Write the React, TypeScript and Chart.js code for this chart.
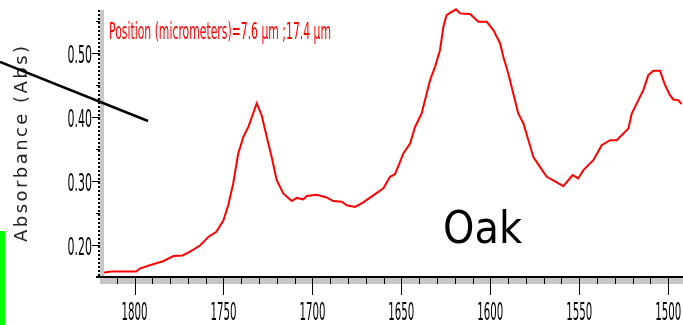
import React, { useEffect, useRef } from "react";
import { Chart, registerables } from "chart.js";

Chart.register(...registerables);

// Data (wavenumber cm-1, absorbance)
const wavenumbers = [
  1818, 1813, 1799, 1797, 1791, 1784, 1778, 1773, 1769, 1763, 1758.5, 1754, 1750, 1747.3, 1744.5, 1741.7,
  1738.8, 1736, 1731.3, 1728.5, 1725.7, 1722.9, 1720.1, 1716.4, 1711.6, 1708.8, 1705.1, 1703.2, 1697.6,
  1692, 1688.3, 1683.5, 1680.7, 1676, 1671.4, 1665.8, 1660.1, 1656.4, 1653.6, 1650.8, 1648.9, 1645.1,
  1642.3, 1638.6, 1636.7, 1633.9, 1631.1, 1628.3, 1626.4, 1624.6, 1621.7, 1619.3, 1617, 1611.4, 1606.7,
  1602, 1598.3, 1594.5, 1592.7, 1589.9, 1587.1, 1584.3, 1581.4, 1578.6, 1575.8, 1572.1, 1568.3, 1563.6,
  1559, 1553.7, 1550.6, 1547.7, 1542.1, 1537.4, 1532.7, 1529, 1525.2, 1522.4, 1520.5, 1516.8, 1514,
  1511.2, 1508.4, 1504.6, 1501.8, 1499, 1497.2, 1494.4, 1492.5,
];
const absorbance = [
  0.157, 0.159, 0.159, 0.1635, 0.169, 0.175, 0.183, 0.184, 0.1895, 0.2, 0.213, 0.221, 0.239, 0.263, 0.297,
  0.3435, 0.3695, 0.385, 0.422, 0.403, 0.3695, 0.338, 0.302, 0.281, 0.269, 0.274, 0.2715, 0.277, 0.279,
  0.2747, 0.269, 0.268, 0.2626, 0.26, 0.267, 0.278, 0.289, 0.307, 0.311, 0.33, 0.3435, 0.359, 0.385,
  0.406, 0.427, 0.458, 0.479, 0.505, 0.5416, 0.56, 0.565, 0.569, 0.5626, 0.5615, 0.5495, 0.5495, 0.5365,
  0.5156, 0.4947, 0.4687, 0.4374, 0.406, 0.3905, 0.3643, 0.338, 0.3225, 0.307, 0.3, 0.2923, 0.3096,
  0.3044, 0.3174, 0.333, 0.3565, 0.3643, 0.3643, 0.3748, 0.3826, 0.406, 0.427, 0.4426, 0.466, 0.4728,
  0.4728, 0.4504, 0.4347, 0.428, 0.427, 0.4207,
];

const xMajorTicks = [1800, 1750, 1700, 1650, 1600, 1550, 1500];
const xMinorStep = 10;
const yMajorTicks = [0.2, 0.3, 0.4, 0.5];
const yMinorStep = 0.05;
const xRange = [1491.7, 1819.4];
const yRange = [0.1503, 0.5679];

const yTitle = "Absorbance (Abs)";
const positionText = "Position (micrometers)=7.6 \u00b5m ;17.4 \u00b5m";
const sampleText = "Oak";

const FONT = '"DejaVu Sans", "Liberation Sans", sans-serif';

function drawScaled(
  ctx: CanvasRenderingContext2D,
  text: string,
  x: number,
  y: number,
  sx: number,
  align: CanvasTextAlign
) {
  ctx.save();
  ctx.translate(x, y);
  ctx.scale(sx, 1);
  ctx.textAlign = align;
  ctx.textBaseline = "alphabetic";
  ctx.fillText(text, 0, 0);
  ctx.restore();
}

const decorPlugin = {
  id: "decor",
  afterDraw(chart: any) {
    const ctx: CanvasRenderingContext2D = chart.ctx;
    const xs = chart.scales.x;
    const ys = chart.scales.y;
    const area = chart.chartArea;
    ctx.save();

    // grey bands
    ctx.fillStyle = "#c6c6c6";
    ctx.fillRect(area.left, area.bottom + 1, area.right - area.left, 6);
    ctx.fillRect(area.left, area.top, 4, area.bottom - area.top);

    // y axis dotted line
    ctx.strokeStyle = "#000";
    ctx.lineWidth = 2;
    ctx.setLineDash([2, 2]);
    ctx.beginPath();
    ctx.moveTo(area.left - 1, area.top);
    ctx.lineTo(area.left - 1, area.bottom);
    ctx.stroke();
    ctx.setLineDash([]);

    // x axis line
    ctx.lineWidth = 2;
    ctx.beginPath();
    ctx.moveTo(area.left - 4, area.bottom);
    ctx.lineTo(area.right, area.bottom);
    ctx.stroke();

    // x ticks
    ctx.lineWidth = 1;
    for (let v = 1810; v >= xRange[0]; v -= xMinorStep) {
      const px = Math.round(xs.getPixelForValue(v)) + 0.5;
      const major = xMajorTicks.includes(v);
      ctx.beginPath();
      ctx.moveTo(px, area.bottom);
      ctx.lineTo(px, area.bottom + (major ? 18 : 7));
      ctx.stroke();
    }
    // y ticks
    for (let v = 0.2; v <= yRange[1] + 1e-9; v += yMinorStep) {
      const py = Math.round(ys.getPixelForValue(v)) + 0.5;
      const major = yMajorTicks.some((t) => Math.abs(t - v) < 1e-6);
      ctx.beginPath();
      ctx.moveTo(area.left - (major ? 8 : 4), py);
      ctx.lineTo(area.left, py);
      ctx.stroke();
    }

    // tick labels (condensed)
    ctx.fillStyle = "#000";
    ctx.font = "24px " + FONT;
    const sxX = 26 / ctx.measureText("1800").width;
    const sxY = 24.5 / ctx.measureText("0.50").width;
    xMajorTicks.forEach((v) => {
      drawScaled(ctx, String(v), xs.getPixelForValue(v), area.bottom + 43, sxX, "center");
    });
    yMajorTicks.forEach((v) => {
      drawScaled(ctx, v.toFixed(2), area.left - 8, ys.getPixelForValue(v) + 10, sxY, "right");
    });

    // red position annotation
    ctx.fillStyle = "#ff0000";
    ctx.font = "23px " + FONT;
    const sxP = 222 / ctx.measureText(positionText).width;
    drawScaled(ctx, positionText, 109, 39, sxP, "left");

    // Oak label
    ctx.fillStyle = "#000";
    ctx.font = "45px " + FONT;
    const sxO = 79 / ctx.measureText(sampleText).width;
    drawScaled(ctx, sampleText, 443, 243, sxO, "left");

    // y axis title, letter-spaced, rotated
    ctx.font = "18px " + FONT;
    ctx.fillStyle = "#222";
    const chars = yTitle.split("");
    const widths = chars.map((c) => ctx.measureText(c).width);
    const natural = widths.reduce((a, b) => a + b, 0);
    const targetLen = 196;
    const gap = (targetLen - natural) / (chars.length - 1);
    ctx.save();
    ctx.translate(27, 144 + targetLen / 2);
    ctx.rotate(-Math.PI / 2);
    ctx.textAlign = "left";
    ctx.textBaseline = "alphabetic";
    let cx = 0;
    chars.forEach((c, i) => {
      ctx.fillText(c, cx, 0);
      cx += widths[i] + gap;
    });
    ctx.restore();

    // black diagonal line
    ctx.strokeStyle = "#000";
    ctx.lineWidth = 2.5;
    ctx.beginPath();
    ctx.moveTo(0, 62);
    ctx.lineTo(148, 121);
    ctx.stroke();

    // green marker
    ctx.fillStyle = "#00ff00";
    ctx.fillRect(0, 231, 5, 94);

    ctx.restore();
  },
};

export default function App() {
  const ref = useRef<HTMLCanvasElement | null>(null);
  useEffect(() => {
    if (!ref.current) return;
    const points = wavenumbers.map((w, i) => ({ x: w, y: absorbance[i] }));
    const chart = new Chart(ref.current, {
      type: "line",
      data: {
        datasets: [
          {
            data: points,
            borderColor: "#ff0000",
            borderWidth: 2,
            pointRadius: 0,
            tension: 0,
            fill: false,
            clip: false as any,
          },
        ],
      },
      options: {
        responsive: false,
        animation: false,
        devicePixelRatio: 1,
        layout: { padding: { left: 100, right: 0, top: 10, bottom: 48 } },
        scales: {
          x: { type: "linear", reverse: true, min: xRange[0], max: xRange[1], display: false },
          y: { type: "linear", min: yRange[0], max: yRange[1], display: false },
        },
        plugins: { legend: { display: false }, tooltip: { enabled: false } },
      },
      plugins: [decorPlugin],
    });
    return () => chart.destroy();
  }, []);
  return (
    <div style={{ position: "fixed", left: 0, top: 0, width: 683, height: 325, background: "#fff" }}>
      <canvas ref={ref} width={683} height={325} style={{ display: "block" }} />
    </div>
  );
}
